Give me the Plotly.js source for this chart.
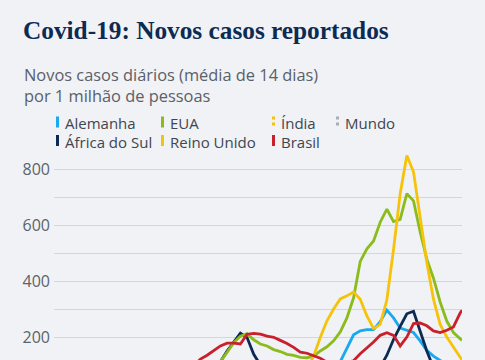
<!DOCTYPE html>
<html>
<head>
<meta charset="utf-8">
<script src="https://cdn.plot.ly/plotly-3.0.1.min.js"></script>
<style>
html,body{margin:0;padding:0;background:#f0f2f5;overflow:hidden;}
#chart{width:485px;height:470px;}
</style>
</head>
<body>
<div id="chart"></div>
<script>
// Weekly dates (14-day average, per 1 million people)
const dates = [
 "2020-01-06","2020-01-13","2020-01-20","2020-01-27","2020-02-03","2020-02-10","2020-02-17","2020-02-24",
 "2020-03-02","2020-03-09","2020-03-16","2020-03-23","2020-03-30","2020-04-06","2020-04-13","2020-04-20",
 "2020-04-27","2020-05-04","2020-05-11","2020-05-18","2020-05-25","2020-06-01","2020-06-08","2020-06-15",
 "2020-06-22","2020-06-29","2020-07-06","2020-07-13","2020-07-20","2020-07-27","2020-08-03","2020-08-10",
 "2020-08-17","2020-08-24","2020-08-31","2020-09-07","2020-09-14","2020-09-21","2020-09-28","2020-10-05",
 "2020-10-12","2020-10-19","2020-10-26","2020-11-02","2020-11-09","2020-11-16","2020-11-23","2020-11-30",
 "2020-12-07","2020-12-14","2020-12-21","2020-12-28","2021-01-04","2021-01-11","2021-01-18","2021-01-25",
 "2021-02-01","2021-02-08","2021-02-15","2021-02-22","2021-03-01","2021-03-08","2021-03-10"
];

const alemanha = [0,0,0,0,0,0,0,1, 1,5,20,45,60,62,50,35, 22,14,10,8,7,5,4,5, 7,6,5,5,6,7,9,11,
 14,16,15,15,16,20,24,30, 45,72,100,112,160,208,222,226, 226,255,296,268,232,224,216,186, 152,132,116,105,100,100,101];

const africaDoSul = [0,0,0,0,0,0,0,0, 0,0,0.5,2,1.5,1.5,1.5,2, 4,6,10,15,20,27,40,55, 80,112,150,182,214,198,138,100,
 65,48,40,33,30,27,25,26, 27,28,28,30,32,40,47,55, 70,92,135,191,238,283,292,220, 150,90,72,55,45,38,36];

const eua = [0,0,0,0,0,0,0,0, 0.3,2,10,40,75,90,92,90, 88,82,78,74,68,64,63,70, 90,112,145,180,203,212,190,175,
 168,155,148,138,134,127,126,131, 150,165,186,218,268,340,470,515, 543,610,657,612,620,712,686,575, 478,410,325,257,216,195,188];

const reinoUnido = [0,0,0,0,0,0,0,0, 0,1,5,25,55,70,72,70, 65,60,52,45,38,30,22,17, 14,12,10,9,10,11,12,13,
 15,17,20,28,45,62,85,132, 198,258,300,336,347,361,335,275, 230,245,333,512,712,848,790,628, 466,335,245,200,162,128,118];

const india = [0,0,0,0,0,0,0,0, 0,0,0.05,0.1,0.5,0.5,0.8,1.1, 1.3,2,2.5,3.5,4.5,5.5,7,8.5, 10.5,13,16.5,20,24,30,36,41,
 45,48,53,60,66,67,63,57, 52,45,37,33,32,30,30,28, 25,21,18,16,14,13,11,10, 9.5,8.5,8.5,9.5,11,13,14];

const brasil = [0,0,0,0,0,0,0,0, 0,0.1,0.5,2,4,7,10,15, 22,32,45,60,78,98,121,135, 152,168,178,178,175,210,213,210,
 203,199,188,177,163,146,142,134, 124,110,106,106,110,115,140,160, 182,206,215,206,168,200,248,250, 240,222,216,224,236,285,296];

const mundo = [0.1,0.1,0.1,0.1,0.1,0.1,0.2,0.3, 0.4,0.6,1.5,4,7,9.5,10.5,10.5, 10.5,10.5,11,12,13,14,15.5,17, 20,22,25,28,30,32,32.5,33,
 33,34,35,37,39,39,39,41, 45,52,60,68,74,76,77,77, 80,84,84,80,90,92,85,75, 66,56,51,50,51,54,55];

const seriesNames = ["Alemanha","África do Sul","EUA","Reino Unido","Índia","Brasil","Mundo"];
const yTickVals = [0,100,200,300,400,500,600,700,800];
const yTickText = ["","","200","","400","","600","","800"];

const title = "Covid-19: Novos casos reportados";
const subtitle = "Novos casos diários (média de 14 dias)<br>por 1 milhão de pessoas";

// styles
const colors = {
  "Alemanha":"#1aa8ef","África do Sul":"#0c2a53","EUA":"#8cbb1c","Reino Unido":"#f6c20a",
  "Índia":"#f6c20a","Brasil":"#c8202c","Mundo":"#a8aeb6"
};
const dashes = {"Índia":"dot","Mundo":"dot"};
const values = {
  "Alemanha":alemanha,"África do Sul":africaDoSul,"EUA":eua,"Reino Unido":reinoUnido,
  "Índia":india,"Brasil":brasil,"Mundo":mundo
};
const drawOrder = ["Mundo","Índia","Alemanha","África do Sul","EUA","Reino Unido","Brasil"];

const traces = drawOrder.map(n => ({
  type:"scatter", mode:"lines", name:n, x:dates, y:values[n],
  line:{color:colors[n], width:2.8, dash:dashes[n]||"solid"},
  hoverinfo:"skip"
}));

// plot box in pixels
const W=485, H=470, PL=54, PR=23, PT=141, PB=77;
const PW=W-PL-PR, PH=H-PT-PB;
const px = x => (x-PL)/PW;
const py = y => (PT+PH-y)/PH;

// legend layout: columns / rows
const legCols = [57.5,162.5,273.5,337.5];
const legRows = [122,140.5];
const legPos = {
  "Alemanha":[0,0],"África do Sul":[0,1],"EUA":[1,0],"Reino Unido":[1,1],
  "Índia":[2,0],"Brasil":[2,1],"Mundo":[3,0]
};
const shapes = [], annotations = [];
seriesNames.forEach(n => {
  const [c,r] = legPos[n];
  const x = legCols[c], yc = legRows[r];
  shapes.push({type:"line", xref:"paper", yref:"paper",
    x0:px(x), x1:px(x), y0:py(yc-5.5), y1:py(yc+5.5),
    line:{color:colors[n], width:3, dash:dashes[n]?"dot":"solid"}});
  annotations.push({xref:"paper", yref:"paper", x:px(x+5), y:py(yc+1), xanchor:"left", yanchor:"middle",
    text:n, showarrow:false, font:{family:"Open Sans", size:15, color:"#3f4650"}});
});
annotations.push({xref:"paper", yref:"paper", x:px(22), y:py(61), xanchor:"left", yanchor:"top", align:"left",
  text:subtitle, showarrow:false, font:{family:"Open Sans", size:16.4, color:"#5b6069"}});

const layout = {
  width:W, height:H,
  paper_bgcolor:"#f0f2f5", plot_bgcolor:"#f0f2f5",
  margin:{l:PL, r:PR, t:PT, b:PB, pad:0},
  showlegend:false, hovermode:false,
  title:{text:title, xref:"container", yref:"container", x:23/W, xanchor:"left",
    y:1-30/H, yanchor:"middle",
    font:{family:"Liberation Serif", size:25.3, weight:700, color:"#0d2b52"}},
  xaxis:{type:"date", range:["2020-01-06","2021-03-10"], showgrid:false, zeroline:false,
    showline:false, ticks:"", showticklabels:false, fixedrange:true},
  yaxis:{range:[0,900], tickmode:"array", tickvals:yTickVals, ticktext:yTickText,
    showgrid:true, gridcolor:"#d3d7dd", gridwidth:1, zeroline:false, showline:false,
    ticks:"", ticklabelstandoff:3, fixedrange:true,
    tickfont:{family:"Open Sans", size:16, color:"#5d636b"}},
  shapes:shapes, annotations:annotations
};

Plotly.newPlot("chart", traces, layout, {staticPlot:true, displayModeBar:false});
</script>
</body>
</html>
